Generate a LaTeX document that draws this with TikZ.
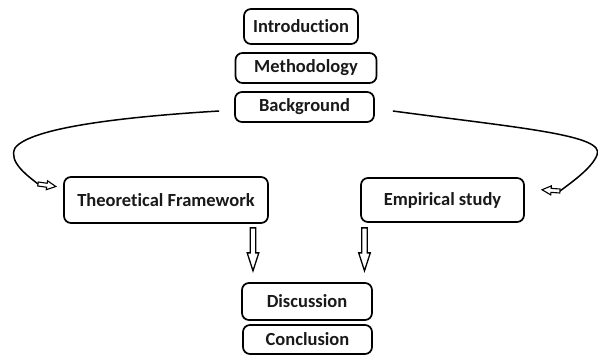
\documentclass[tikz,border=0pt]{standalone}
\usepackage{fontspec}
\setmainfont{Carlito}[Ligatures={NoCommon,NoContextual}]
\usetikzlibrary{arrows.meta}
\tikzset{
  box/.style={draw, line width=1.7pt, rounded corners=7pt, inner sep=0pt, font=\bfseries\fontsize{18.5}{20}\selectfont, text=black!90},
  curve/.style={line width=1.5pt},
  smallarrow/.pic={\draw[line width=1.1pt, line join=miter] (0,-2) -- (9,-2) -- (9,-4.5) -- (18,0) -- (9,4.5) -- (9,2) -- (0,2) -- cycle;},
  downarrow/.pic={\draw[line width=1.3pt, line join=miter] (-2.8,0) -- (-2.8,25) -- (-5.8,25) -- (0,43) -- (5.8,25) -- (2.8,25) -- (2.8,0) -- cycle;},
}
\begin{document}
\begin{tikzpicture}[x=1pt,y=-1pt]
\useasboundingbox (0,0) rectangle (598,356);
\node[box, minimum width=114pt, minimum height=35pt] (intro) at (301,26.5) {Introduction};
\node[box, minimum width=141pt, minimum height=30pt] (meth) at (306,68) {Methodology};
\node[box, minimum width=139pt, minimum height=30pt] (back) at (304.5,107) {Background};
\node[box, minimum width=204pt, minimum height=46pt] (tf) at (166,200) {Theoret{}ical Framework};
\node[box, minimum width=163pt, minimum height=44pt] (emp) at (442.5,200) {Empirical study};
\node[box, minimum width=130pt, minimum height=37pt] (disc) at (307,301.5) {Discussion};
\node[box, minimum width=129pt, minimum height=29pt] (conc) at (307.5,339.5) {Conclusion};

\coordinate (lstart) at ([xshift=-15pt,yshift=-4pt]back.west);
\coordinate (lend) at (38,184);
\coordinate (rstart) at ([xshift=18pt,yshift=-4pt]back.east);
\coordinate (rend) at (560,191);
\draw[curve] (lstart) .. controls (120,117) and (30,128) .. (15,148) .. controls (8,162) and (28,176) .. (lend);
\pic[rotate=-8] at (lend) {smallarrow};
\draw[curve] (rstart) .. controls (520,128) and (606,135) .. (597,155) .. controls (592,168) and (572,182) .. (rend);
\pic[rotate=176] at (rend) {smallarrow};

\coordinate (d1) at ([xshift=87pt,yshift=-4pt]tf.south);
\coordinate (d2) at ([xshift=-78pt,yshift=-5pt]emp.south);
\pic at (d1) {downarrow};
\pic at (d2) {downarrow};
\end{tikzpicture}
\end{document}
